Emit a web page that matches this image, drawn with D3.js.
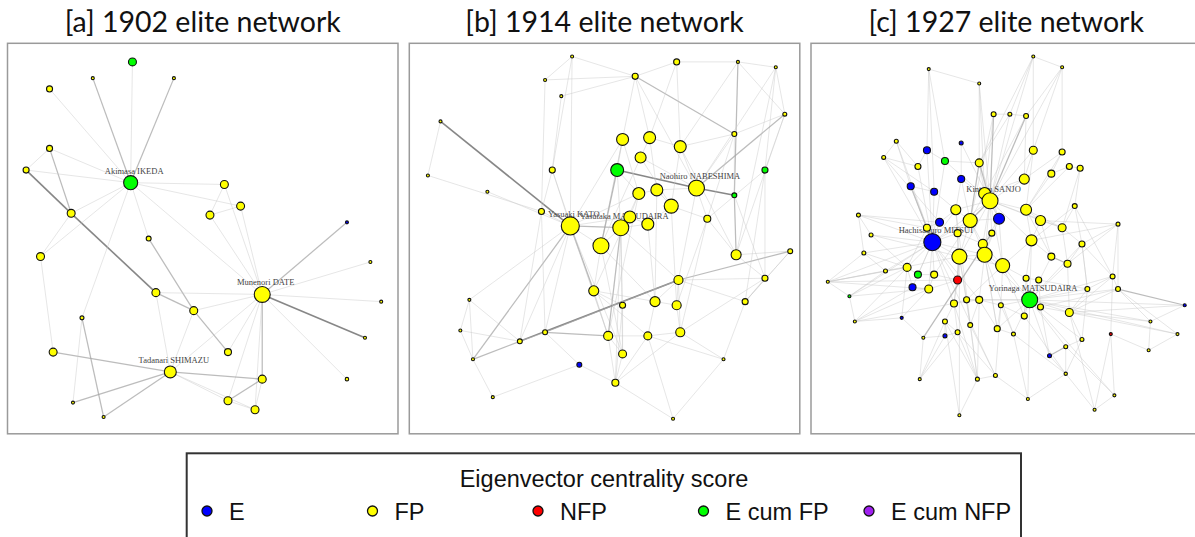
<!DOCTYPE html>
<html>
<head>
<meta charset="utf-8">
<script src="https://cdn.jsdelivr.net/npm/d3@7"></script>
<style>
  body { margin: 0; background: #fff; }
  svg { display: block; }
</style>
</head>
<body>
<div id="chart"></div>
<script>
// node = [x, y, eigenvector score, group, label]  (layout coords in -1..1, y up)
var nodes1902 = [
  [-0.39, 0.98, 0.31, "E cum FP"], [-0.61, 0.89, 0, "FP"], [-0.16, 0.89, 0, "FP"],
  [-0.85, 0.83, 0.19, "FP"], [-0.85, 0.50, 0.19, "FP"], [-0.98, 0.38, 0.19, "FP"],
  [-0.40, 0.31, 0.69, "E cum FP", "Akimasa IKEDA"], [0.12, 0.30, 0.31, "FP"], [0.21, 0.18, 0.31, "FP"],
  [0.04, 0.13, 0.31, "FP"], [-0.73, 0.14, 0.31, "FP"], [-0.30, 0.00, 0.12, "FP"],
  [-0.90, -0.10, 0.31, "FP"], [0.80, 0.09, 0, "E"], [0.93, -0.13, 0, "FP"],
  [0.99, -0.35, 0, "FP"], [0.90, -0.55, 0, "FP"], [0.80, -0.78, 0.03, "FP"],
  [0.33, -0.31, 0.81, "FP", "Munenori DATE"], [-0.26, -0.30, 0.31, "FP"], [-0.05, -0.40, 0.31, "FP"],
  [-0.67, -0.44, 0.06, "FP"], [-0.83, -0.63, 0.31, "FP"], [0.14, -0.63, 0.25, "FP"],
  [-0.18, -0.74, 0.56, "FP", "Tadanari SHIMAZU"], [0.33, -0.78, 0.31, "FP"], [0.14, -0.90, 0.31, "FP"],
  [0.29, -0.95, 0.31, "FP"], [-0.72, -0.91, 0, "FP"], [-0.55, -0.99, 0, "FP"]
];
var edges1902 = [
  [0,6,1],[1,6,2],[2,6,2],[3,6,1],[4,6,1],[4,5,1],[4,10,2],[5,6,1],[5,10,3],[10,19,3],
  [6,10,1],[6,12,1],[10,12,1],[6,7,1],[6,8,1],[6,18,1],[6,11,1],[6,21,1],[7,9,1],[8,9,1],
  [9,18,1],[7,18,1],[8,18,1],[11,20,2],[20,23,2],[12,22,1],[13,18,2],[14,18,1],[15,18,1],[16,18,3],
  [17,18,1],[19,18,1],[19,20,2],[20,18,1],[19,24,1],[20,24,1],[18,24,1],[18,25,2],[18,27,1],[18,26,1],
  [18,23,1],[22,24,2],[24,25,2],[24,26,1],[24,27,1],[24,28,2],[24,29,2],[21,28,1],[21,29,2],[26,25,2],
  [26,27,1],[25,27,1]
];

var nodes1914 = [
  [-0.18, 1.01, 0, "FP"], [0.40, 0.98, 0.19, "FP"], [0.74, 0.98, 0, "FP"], [0.95, 0.95, 0, "FP"],
  [0.17, 0.90, 0.19, "FP"], [-0.33, 0.88, 0, "FP"], [-0.24, 0.79, 0, "FP"], [1.00, 0.69, 0.06, "FP"],
  [-0.91, 0.65, 0, "FP"], [0.72, 0.58, 0.12, "FP"], [0.10, 0.55, 0.56, "FP"], [0.25, 0.56, 0.56, "FP"],
  [0.42, 0.51, 0.56, "FP"], [0.20, 0.45, 0.50, "FP"], [0.07, 0.38, 0.62, "E cum FP"], [-0.29, 0.38, 0.19, "FP"],
  [0.89, 0.38, 0.19, "E cum FP"], [-0.98, 0.35, 0, "FP"], [0.51, 0.28, 0.81, "FP", "Naohiro NABESHIMA"], [0.19, 0.25, 0.56, "FP"],
  [0.29, 0.27, 0.56, "FP"], [0.72, 0.24, 0.12, "E cum FP"], [-0.65, 0.26, 0, "FP"], [0.37, 0.18, 0.69, "FP"],
  [-0.35, 0.15, 0.19, "FP"], [-0.19, 0.07, 0.94, "FP", "Yasuaki KATO"], [0.09, 0.06, 0.81, "FP", "Yasutaka MATSUDAIRA"], [0.14, 0.12, 0.56, "FP"],
  [0.24, 0.08, 0.56, "FP"], [0.57, 0.11, 0.25, "FP"], [-0.02, -0.04, 0.81, "FP"], [0.73, -0.09, 0.44, "FP"],
  [1.03, -0.07, 0.12, "FP"], [0.41, -0.23, 0.38, "FP"], [0.89, -0.22, 0.19, "FP"], [-0.06, -0.29, 0.44, "FP"],
  [0.10, -0.37, 0.19, "FP"], [0.28, -0.35, 0.44, "FP"], [0.40, -0.37, 0.38, "FP"], [0.78, -0.35, 0.19, "FP"],
  [-0.75, -0.34, 0, "FP"], [-0.80, -0.51, 0, "FP"], [-0.33, -0.52, 0.12, "FP"], [-0.47, -0.57, 0.12, "FP"],
  [0.02, -0.54, 0.38, "FP"], [0.24, -0.54, 0.31, "FP"], [0.42, -0.52, 0.38, "FP"], [0.10, -0.64, 0.31, "FP"],
  [-0.73, -0.67, 0, "FP"], [-0.14, -0.70, 0.12, "E"], [0.66, -0.67, 0, "FP"], [0.06, -0.80, 0.25, "FP"],
  [-0.62, -0.88, 0, "FP"], [0.38, -1.00, 0, "FP"]
];
var edges1914 = [
  [8,25,3],[8,17,1],[17,24,1],[22,25,1],[5,0,1],[0,4,1],[5,4,1],[6,4,1],[1,4,1],[1,2,1],
  [2,3,1],[3,7,1],[2,7,1],[4,9,2],[4,18,1],[4,30,1],[6,15,1],[15,25,1],[15,44,1],[2,21,2],
  [3,16,1],[7,16,1],[7,31,1],[9,21,1],[9,18,1],[9,12,1],[10,14,1],[10,30,1],[11,13,1],[12,18,1],
  [13,18,1],[14,18,3],[14,19,1],[14,30,2],[18,21,3],[18,20,1],[19,20,1],[20,23,1],[23,29,1],[18,29,1],
  [18,33,1],[25,26,2],[25,30,1],[25,27,1],[25,35,2],[25,42,1],[25,43,1],[25,44,1],[25,47,1],[25,40,1],
  [25,48,2],[25,24,1],[25,19,1],[26,30,1],[26,44,2],[26,51,1],[26,47,1],[26,33,1],[26,28,1],[30,35,1],
  [30,37,1],[35,36,1],[35,44,1],[35,45,1],[35,38,1],[33,34,1],[33,43,3],[33,42,2],[33,38,1],[33,46,1],
  [33,37,1],[33,39,1],[43,42,1],[43,40,1],[43,48,2],[42,44,2],[42,49,1],[44,45,1],[45,46,1],[44,47,1],
  [44,51,1],[47,51,1],[46,51,1],[46,50,1],[45,51,1],[31,21,2],[31,34,1],[31,32,1],[32,33,2],[34,46,1],
  [39,32,1],[40,41,1],[41,48,1],[48,52,1],[52,49,1],[49,51,1],[51,53,1],[53,50,1],[50,39,1],[29,31,1],
  [29,46,1],[29,38,1],[16,29,1],[16,34,1],[16,39,1],[7,9,1],[7,18,2],[1,12,1],[10,19,1],[11,20,1],
  [13,23,1],[19,27,1],[27,28,1],[23,28,1],[12,23,1],[24,15,1],[24,42,1],[36,47,1],[37,45,1],[38,46,1],
  [26,36,1],[0,15,1],[11,12,1],[19,44,1],[20,37,1],[3,18,1],[2,12,1],[3,31,1],[9,29,1],[1,11,1],
  [4,11,1],[0,25,1],[5,24,1],[10,25,1],[14,26,1],[13,30,1],[12,31,1],[21,34,1],[23,38,1],[28,37,1],
  [30,47,1],[36,51,1],[19,35,1],[24,43,1],[41,43,1],[40,48,1],[32,39,1],[34,39,1],[50,45,1],[53,45,1]
];

var nodes1927 = [
  [0.15, 1.01, 0, "FP"], [0.31, 0.95, 0, "FP"], [-0.43, 0.94, 0, "FP"], [-0.15, 0.86, 0, "FP"],
  [-0.07, 0.69, 0.12, "FP"], [0.02, 0.69, 0.06, "FP"], [0.11, 0.68, 0.12, "FP"], [-0.61, 0.54, 0.06, "FP"],
  [-0.25, 0.53, 0.06, "E"], [-0.44, 0.49, 0.25, "E"], [-0.68, 0.45, 0.06, "FP"], [-0.34, 0.43, 0.25, "E cum FP"],
  [-0.15, 0.42, 0.31, "FP"], [0.15, 0.49, 0.31, "FP"], [0.31, 0.48, 0.19, "FP"], [-0.49, 0.40, 0.19, "FP"],
  [0.35, 0.40, 0.19, "FP"], [0.41, 0.39, 0.19, "FP"], [-0.53, 0.29, 0.25, "E"], [-0.25, 0.33, 0.25, "E"],
  [-0.40, 0.26, 0.25, "E"], [0.10, 0.33, 0.44, "FP"], [0.25, 0.36, 0.25, "FP"], [-0.12, 0.25, 0.56, "FP"],
  [-0.09, 0.21, 0.81, "FP", "Kinteru SANJO"], [-0.28, 0.16, 0.44, "FP"], [0.11, 0.16, 0.50, "FP"], [0.38, 0.18, 0.12, "FP"],
  [-0.82, 0.13, 0.06, "FP"], [-0.20, 0.10, 0.69, "FP"], [-0.04, 0.11, 0.50, "E"], [-0.37, 0.09, 0.31, "E"],
  [0.19, 0.10, 0.44, "FP"], [-0.44, 0.06, 0.25, "FP"], [-0.27, 0.03, 0.25, "FP"], [-0.08, 0.03, 0.19, "FP"],
  [0.31, 0.06, 0.31, "FP"], [0.62, 0.08, 0.06, "FP"], [-0.75, 0.02, 0.06, "FP"], [-0.41, -0.02, 0.88, "E", "Hachisaburo MITSUI"],
  [-0.13, -0.03, 0.38, "FP"], [0.14, -0.01, 0.50, "FP"], [0.42, -0.03, 0.19, "FP"], [-0.79, -0.08, 0.06, "FP"],
  [-0.26, -0.10, 0.75, "FP"], [-0.12, -0.09, 0.75, "FP"], [0.25, -0.10, 0.25, "FP"], [0.34, -0.14, 0.25, "FP"],
  [-0.02, -0.15, 0.69, "FP"], [-0.55, -0.16, 0.31, "FP"], [-0.67, -0.18, 0.06, "FP"], [-0.49, -0.20, 0.25, "E cum FP"],
  [-0.40, -0.20, 0.25, "FP"], [-0.27, -0.23, 0.31, "NFP"], [0.11, -0.22, 0.19, "FP"], [0.18, -0.23, 0.19, "FP"],
  [0.59, -0.21, 0.12, "FP"], [-0.99, -0.24, 0, "FP"], [-0.52, -0.27, 0.25, "E"], [-0.43, -0.28, 0.31, "FP"],
  [0.45, -0.28, 0.12, "FP"], [0.62, -0.28, 0.12, "FP"], [-0.87, -0.32, 0, "E cum FP"], [0.13, -0.34, 0.81, "E cum FP", "Yorinaga MATSUDAIRA"],
  [-0.29, -0.36, 0.25, "FP"], [-0.22, -0.34, 0.19, "FP"], [-0.15, -0.34, 0.25, "FP"], [-0.03, -0.37, 0.12, "FP"],
  [0.19, -0.38, 0.19, "FP"], [0.35, -0.41, 0.31, "FP"], [0.10, -0.43, 0.19, "FP"], [0.99, -0.37, 0, "E"],
  [-0.84, -0.46, 0, "FP"], [-0.58, -0.44, 0, "E"], [-0.34, -0.46, 0.12, "FP"], [-0.20, -0.48, 0.12, "FP"],
  [0.80, -0.46, 0, "FP"], [-0.05, -0.50, 0.19, "FP"], [-0.27, -0.52, 0.12, "FP"], [0.04, -0.53, 0.06, "FP"],
  [-0.46, -0.55, 0, "FP"], [-0.34, -0.54, 0.06, "E"], [0.58, -0.53, 0, "NFP"], [0.95, -0.53, 0, "FP"],
  [0.42, -0.56, 0.06, "FP"], [0.33, -0.60, 0.06, "FP"], [0.24, -0.65, 0.06, "E"], [0.79, -0.62, 0, "FP"],
  [0.33, -0.75, 0.02, "FP"], [-0.16, -0.78, 0.06, "FP"], [-0.06, -0.76, 0.06, "FP"], [-0.48, -0.78, 0, "FP"],
  [0.12, -0.89, 0, "FP"], [0.60, -0.87, 0, "FP"], [0.49, -0.95, 0, "FP"], [-0.26, -0.98, 0, "FP"]
];
var edges1927 = [
  [2,3,1],[3,12,1],[2,11,1],[0,1,1],[0,5,1],[1,6,1],[1,13,1],[0,12,1],[4,5,1],[5,6,1],
  [4,24,2],[5,24,1],[6,24,2],[4,29,1],[6,23,1],[5,12,1],[7,10,1],[7,15,1],[10,15,1],[7,18,1],
  [10,20,1],[10,39,1],[9,11,1],[9,15,1],[11,12,1],[11,39,1],[11,24,1],[9,39,1],[12,24,2],[12,23,1],
  [12,29,2],[13,21,1],[13,26,1],[14,22,1],[16,17,1],[16,22,1],[17,27,1],[21,24,1],[22,26,1],[21,23,1],
  [18,20,1],[18,39,2],[19,24,1],[19,29,1],[20,39,1],[20,25,1],[18,33,1],[23,24,1],[23,29,1],[24,29,2],
  [24,30,1],[24,26,1],[24,32,1],[24,35,1],[24,40,1],[24,45,1],[24,44,1],[24,48,1],[24,25,1],[24,39,1],
  [24,36,1],[24,41,1],[25,29,1],[25,39,1],[25,31,1],[25,34,1],[29,30,1],[29,39,1],[29,44,1],[29,45,1],
  [29,40,1],[26,32,1],[26,41,1],[26,36,1],[27,36,1],[27,42,1],[32,41,1],[32,46,1],[32,36,1],[28,39,1],
  [28,38,1],[28,43,1],[38,39,1],[43,39,1],[43,57,1],[43,50,1],[30,40,1],[30,45,1],[30,48,1],[31,39,1],
  [33,39,1],[34,39,1],[34,44,1],[35,45,1],[35,40,1],[37,42,1],[37,56,1],[37,61,1],[36,42,1],[36,47,1],
  [42,47,1],[42,60,1],[39,44,1],[39,45,1],[39,49,1],[39,51,1],[39,52,1],[39,58,1],[39,59,1],[39,53,1],
  [39,64,1],[39,66,1],[44,45,1],[44,48,1],[44,53,1],[44,64,1],[44,65,1],[45,48,1],[45,40,1],[45,66,1],
  [45,63,1],[48,63,1],[48,41,1],[48,54,1],[48,67,1],[41,63,1],[41,46,1],[41,54,1],[46,47,2],[46,63,1],
  [47,63,1],[49,50,1],[49,51,1],[49,58,1],[50,57,1],[50,62,1],[51,52,1],[52,59,1],[58,59,1],[59,53,1],
  [62,39,1],[57,39,1],[57,49,1],[72,49,1],[72,58,1],[73,59,1],[73,49,1],[54,55,1],[54,63,1],[55,63,1],
  [55,68,1],[56,60,1],[56,61,1],[60,63,1],[60,69,1],[61,69,1],[61,76,1],[61,83,1],[61,71,2],[56,82,1],
  [82,87,1],[82,93,1],[76,87,1],[83,87,1],[71,76,1],[63,68,1],[63,69,1],[63,70,1],[63,67,1],[63,77,1],
  [63,79,1],[63,86,1],[63,85,1],[63,84,1],[63,66,1],[63,65,1],[68,69,1],[69,84,1],[84,85,1],[85,86,2],
  [85,88,1],[86,88,1],[88,84,1],[88,70,1],[88,79,1],[64,65,1],[65,66,1],[66,67,1],[64,74,1],[64,78,1],
  [65,75,1],[66,77,1],[67,77,1],[67,79,1],[77,79,1],[74,78,1],[74,81,1],[78,81,1],[75,89,1],[75,90,1],
  [78,89,1],[78,90,1],[74,89,1],[81,91,1],[80,91,1],[80,73,1],[80,81,1],[89,90,1],[89,95,1],[90,92,1],
  [79,92,1],[92,88,1],[93,94,1],[94,88,1],[94,82,1],[53,64,1],[53,44,1],[53,34,1],[39,90,1],[25,89,1],
  [44,95,1],[35,80,2],[57,62,1],[62,72,1],[72,73,1],[3,23,1],[8,24,1],[8,19,1],[13,24,1],[14,21,1],
  [15,39,1],[19,25,1],[26,46,1],[27,56,1],[31,33,1],[33,49,1],[34,40,1],[40,48,1],[47,69,1],[52,53,1],
  [54,70,1],[60,84,1],[64,66,1],[66,75,1],[67,70,1],[68,86,1],[45,77,1],[48,70,1],[29,52,1],[23,30,1],
  [57,44,1],[57,59,1],[57,53,1],[62,59,1],[62,49,1],[72,64,1],[72,59,1],[43,49,1],[50,39,1],[38,49,1],
  [28,33,1],[71,63,1],[71,69,1],[76,69,1],[76,63,1],[83,63,1],[83,69,1],[37,41,1],[37,32,1],[56,63,1],
  [56,42,1],[61,63,1],[60,42,1],[2,20,1],[2,9,1],[3,24,1],[0,24,1],[1,24,1],[0,13,1],[1,14,1],
  [95,74,1],[92,63,1],[93,63,1],[93,85,1],[94,69,1],[91,74,1],[91,78,1],[89,64,1],[90,67,1],[89,66,1],
  [79,45,1],[77,45,1],[75,44,1],[65,48,1],[38,44,1],[28,31,1],[10,31,1],[7,39,1],[14,26,1],[16,26,1],
  [17,36,1],[27,41,1],[37,47,1],[42,63,1],[56,69,1],[60,55,1],[61,68,1],[4,23,1],[6,21,1],[12,30,1]
];

var groups = ["E", "FP", "NFP", "E cum FP", "E cum NFP"];
var groupColors = ["#0000ff", "#ffff00", "#ff0000", "#00ff00", "#a020f0"];

var panels = [
  { title: "[a] 1902 elite network", nodes: nodes1902, edges: edges1902, left: 7.5 },
  { title: "[b] 1914 elite network", nodes: nodes1914, edges: edges1914, left: 409.3 },
  { title: "[c] 1927 elite network", nodes: nodes1927, edges: edges1927, left: 811 }
];

var svgWidth = 1195, svgHeight = 537;
var panelTop = 43.3, panelSize = 390.5;

var svg = d3.select("#chart").append("svg")
  .attr("width", svgWidth)
  .attr("height", svgHeight);

var color = d3.scaleOrdinal().domain(groups).range(groupColors);
var rScale = d3.scaleLinear().domain([0, 1]).range([1.5, 9.5]);
var edgeWidth = d3.scaleLinear().domain([1, 3]).range([0.9, 1.6]);
var edgeColor = d3.scaleOrdinal().domain([1, 2, 3]).range(["#c8c8c8", "#a6a6a6", "#7a7a7a"]);
var edgeOpacity = d3.scaleOrdinal().domain([1, 2, 3]).range([0.5, 0.75, 0.9]);

panels.forEach(function(p) {
  var g = svg.append("g").attr("transform", `translate(${p.left},${panelTop})`);

  var x = d3.scaleLinear().domain([-1, 1]).range([15, panelSize - 15]);
  var y = d3.scaleLinear().domain([-1, 1]).range([panelSize - 15, 15]);

  g.append("rect")
    .attr("width", panelSize)
    .attr("height", panelSize)
    .attr("fill", "#fff")
    .attr("stroke", "#9a9a9a")
    .attr("stroke-width", 1.5);

  svg.append("text")
    .attr("x", p.left + panelSize / 2)
    .attr("y", 32)
    .attr("text-anchor", "middle")
    .attr("font-family", "Lato, 'Open Sans', sans-serif")
    .attr("font-size", 28.5)
    .attr("fill", "#111")
    .text(p.title);

  g.selectAll(".edge")
    .data(p.edges)
    .enter().append("line")
    .attr("class", "edge")
    .attr("x1", d => x(p.nodes[d[0]][0]))
    .attr("y1", d => y(p.nodes[d[0]][1]))
    .attr("x2", d => x(p.nodes[d[1]][0]))
    .attr("y2", d => y(p.nodes[d[1]][1]))
    .attr("stroke", d => edgeColor(d[2]))
    .attr("stroke-opacity", d => edgeOpacity(d[2]))
    .attr("stroke-width", d => edgeWidth(d[2]));

  // labels sit under the vertices, like in the original plot
  g.selectAll(".lab")
    .data(p.nodes.filter(d => d[4]))
    .enter().append("text")
    .attr("class", "lab")
    .attr("x", d => x(d[0]) + 3.5)
    .attr("y", d => y(d[1]) - 9)
    .attr("text-anchor", "middle")
    .attr("font-family", "'Liberation Serif', serif")
    .attr("font-size", 8.5)
    .attr("fill", "#444")
    .text(d => d[4]);

  g.selectAll(".node")
    .data(p.nodes)
    .enter().append("circle")
    .attr("class", "node")
    .attr("cx", d => x(d[0]))
    .attr("cy", d => y(d[1]))
    .attr("r", d => rScale(d[2]))
    .attr("fill", d => color(d[3]))
    .attr("stroke", "#111")
    .attr("stroke-width", 1.1);
});

// legend
var legend = svg.append("g");
legend.append("rect")
  .attr("x", 186.7)
  .attr("y", 453.3)
  .attr("width", 834.3)
  .attr("height", 120)
  .attr("fill", "none")
  .attr("stroke", "#333")
  .attr("stroke-width", 2);

legend.append("text")
  .attr("x", 604)
  .attr("y", 487)
  .attr("text-anchor", "middle")
  .attr("font-family", "'Liberation Sans', Arial, sans-serif")
  .attr("font-size", 23.5)
  .attr("fill", "#111")
  .text("Eigenvector centrality score");

var legendX = d3.scalePoint().domain(groups).range([207, 869]);

var item = legend.selectAll(".item")
  .data(groups)
  .enter().append("g")
  .attr("class", "item")
  .attr("transform", d => `translate(${legendX(d)},511)`);

item.append("circle")
  .attr("r", 5)
  .attr("fill", d => color(d))
  .attr("stroke", "#111")
  .attr("stroke-width", 1.3);

item.append("text")
  .attr("x", 22)
  .attr("y", 8.5)
  .attr("font-family", "'Liberation Sans', Arial, sans-serif")
  .attr("font-size", 23.5)
  .attr("fill", "#111")
  .text(d => d);
</script>
</body>
</html>
